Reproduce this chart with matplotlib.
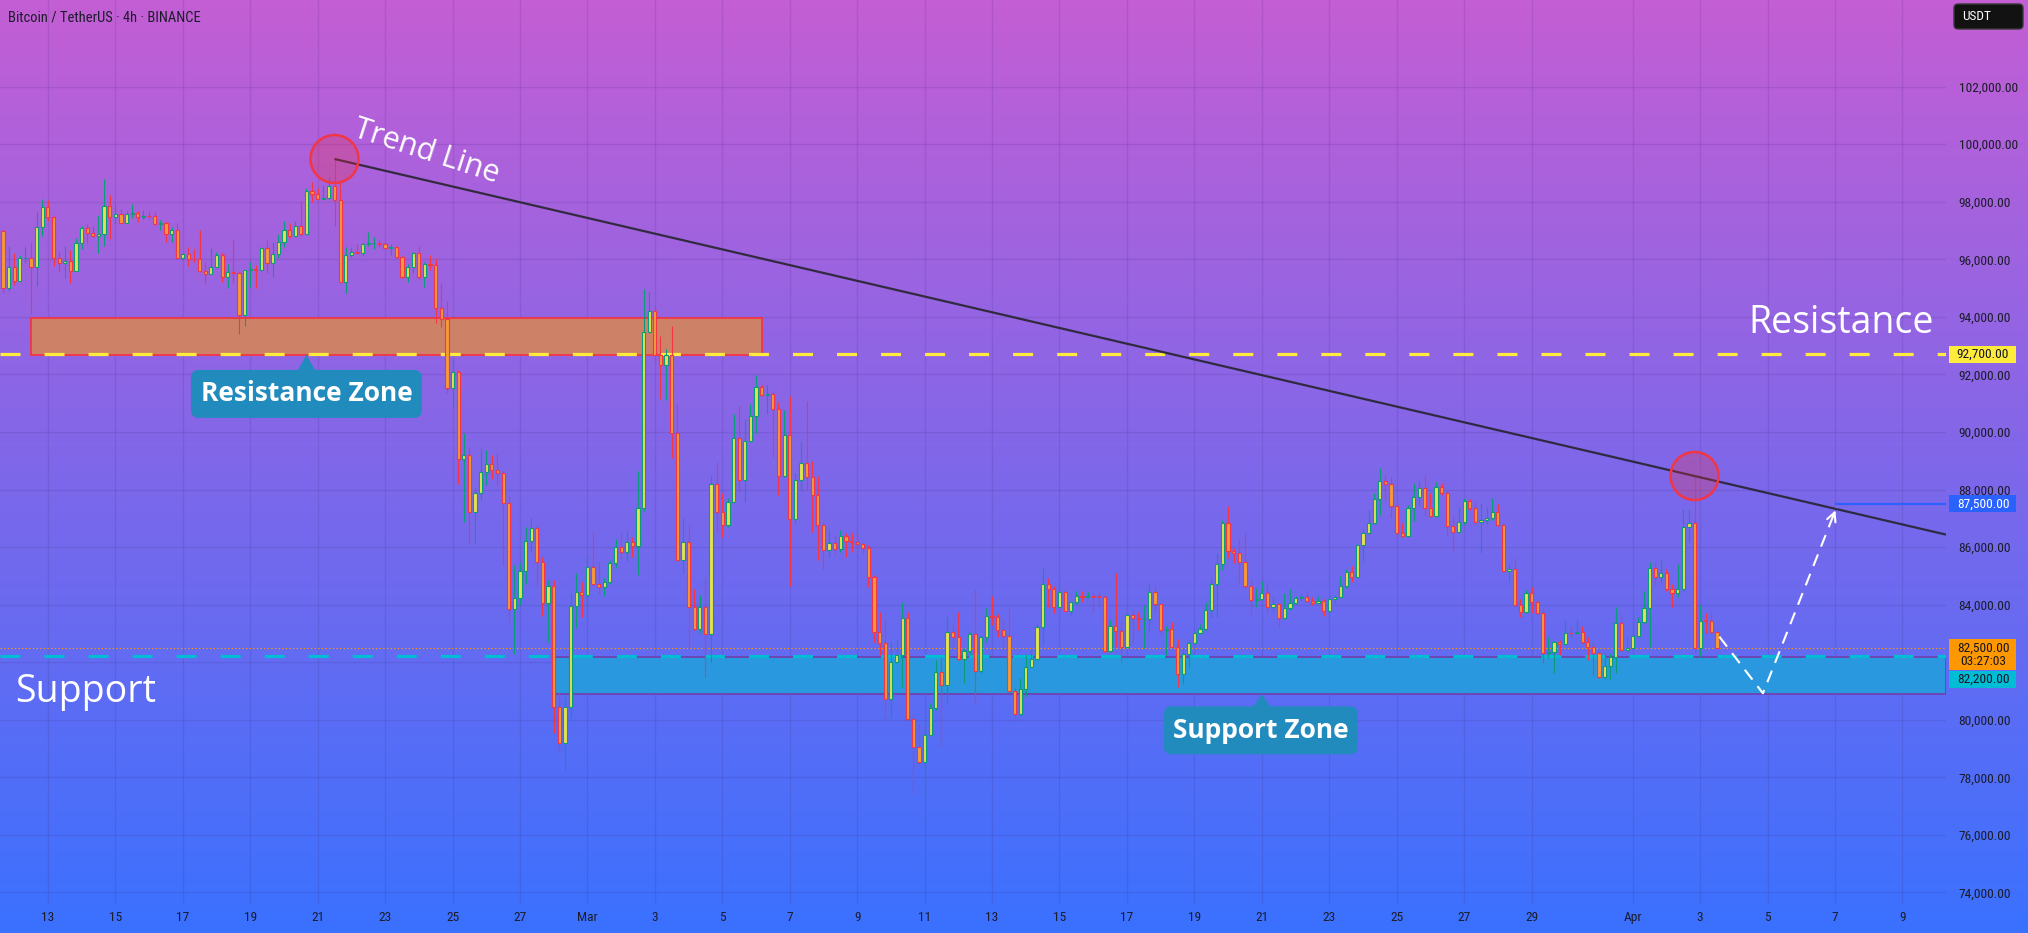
import os
import numpy as np
import pandas as pd
import matplotlib
matplotlib.use("Agg")
import matplotlib.pyplot as plt
from matplotlib.patches import Rectangle, FancyBboxPatch, Circle, Polygon
from matplotlib import font_manager
from matplotlib.textpath import TextToPath

plt.rcParams["lines.scale_dashes"] = False

# ---------------- data (BTC/USDT, 4h candles) ----------------
start_time = "2025-02-11 16:00"
first_open = 96986
closes = [94994, 95723, 95260, 96036, 96060, 95746, 97136, 97808, 97461, 96036,
          95886, 95955, 95584, 96557, 97078, 96905, 96824, 96870, 97855, 97461,
          97588, 97275, 97565, 97600, 97484, 97519, 97496, 97218, 97275, 96870,
          97021, 96059, 96175, 96025, 96001, 95608, 95480, 95723, 96152, 95399,
          95573, 95515, 94067, 95631, 95654, 95631, 96384, 95886, 96175, 96592,
          97021, 96824, 97160, 96870, 98376, 98260, 98086, 98121, 98561, 98063,
          95225, 96152, 96245, 96233, 96523, 96557, 96580, 96523, 96384, 96442,
          96071, 95376, 95723, 96210, 95376, 95828, 95804, 94298, 93916, 91519,
          92096, 89052, 89201, 87209, 87892, 88622, 88877, 88680, 88564, 87522,
          83838, 84221, 85182, 86225, 86653, 85472, 84070, 84661, 80456, 79182,
          80456, 83966, 84429, 84337, 85298, 84707, 84603, 84777, 85437, 86016,
          85843, 86190, 86051, 87371, 93464, 94217, 92676, 92329, 92676, 89978,
          85553, 86190, 83931, 83144, 83908, 82970, 88182, 87232, 86769, 87580,
          89781, 88333, 89700, 90568, 91553, 91286, 91321, 90788, 88483, 89897,
          86966, 88333, 88912, 88425, 87812, 86769, 85901, 86155, 85935, 86387,
          86213, 86178, 86097, 85958, 84974, 83040, 82657, 80723, 82020, 82252,
          83549, 80028, 79043, 78546, 79472, 80398, 81673, 81210, 83063, 82889,
          82101, 82403, 82982, 81708, 82889, 83619, 83561, 83121, 82924, 81013,
          80190, 81071, 81847, 82113, 83213, 84708, 84534, 83932, 84453, 83793,
          84082, 84314, 84256, 84302, 84279, 84267, 82391, 83271, 83086, 82541,
          83642, 83526, 83491, 83503, 84453, 84012, 83121, 83144, 82541, 81592,
          82275, 82681, 83005, 83144, 83816, 84708, 85403, 86827, 85866, 85785,
          85472, 84661, 84163, 84186, 84418, 83932, 84012, 83526, 83897, 84047,
          84244, 84279, 84140, 84070, 84140, 83793, 84186, 84279, 84650, 85148,
          84974, 86074, 86480, 86827, 87661, 88310, 88183, 87441, 86480, 86399,
          87349, 87731, 88067, 87349, 87094, 88101, 87893, 86735, 86515, 86862,
          87615, 87349, 86885, 86943, 87024, 87210, 86770, 85171, 85229, 83989,
          83758, 84395, 84105, 83700, 82310, 82368, 82715, 82634, 83028, 83005,
          83063, 82692, 82518, 82333, 81499, 81881, 82171, 83376, 82426, 82484,
          82912, 83410, 83897, 85264, 84974, 85113, 84534, 84395, 84534, 86711,
          86850, 82484, 83445, 83433, 83063, 82500]
highs = [97021, 96465, 96210, 96152, 96418, 96592, 97658, 98086, 98063, 97507,
         96268, 96465, 96326, 96731, 97160, 97218, 97160, 97542, 98793, 98237,
         97913, 97739, 97681, 97913, 97681, 97716, 97681, 97635, 97368, 97299,
         97113, 97252, 96233, 96418, 96360, 97021, 95897, 96384, 96268, 96210,
         95839, 96708, 95550, 95631, 95920, 95804, 96442, 96673, 96615, 96870,
         97333, 97275, 97333, 98028, 98492, 98700, 98469, 98584, 98851, 99488,
         98723, 96442, 96442, 96534, 96557, 96940, 96789, 96673, 96557, 96523,
         96476, 96117, 95839, 96268, 96476, 95897, 96152, 96036, 95191, 94553,
         92503, 92150, 89954, 89491, 88066, 89433, 89375, 89202, 89259, 88646,
         87777, 85379, 85437, 86688, 87059, 86769, 85669, 84858, 84858, 80978,
         80804, 84395, 85089, 84800, 85646, 86537, 85495, 84916, 85553, 86271,
         86479, 86561, 86364, 88646, 94970, 94877, 94379, 93337, 92885, 93684,
         90974, 87001, 86769, 84533, 84337, 84950, 88472, 88970, 87869, 87696,
         90626, 90904, 90452, 90974, 91981, 91634, 91634, 91425, 91032, 90765,
         91263, 88564, 89688, 91078, 88993, 88472, 86885, 86618, 86422, 86595,
         86479, 86479, 86479, 86132, 86074, 85032, 83735, 83491, 82715, 82773,
         84082, 83735, 80225, 79854, 79935, 80572, 82078, 82194, 83607, 83294,
         83735, 82484, 83040, 84511, 82924, 83874, 84302, 83677, 83491, 83874,
         81152, 81441, 82252, 82426, 83329, 85287, 84939, 84661, 84650, 84545,
         84105, 84476, 84476, 84453, 84395, 84430, 84302, 83468, 85090, 83434,
         83700, 83839, 83735, 83989, 84708, 84661, 83989, 83271, 83410, 82796,
         82484, 82773, 83028, 83318, 84105, 84881, 85785, 86943, 87430, 85982,
         86283, 86480, 84893, 84569, 84823, 84777, 84302, 84047, 84395, 84534,
         84302, 84395, 84487, 84279, 84302, 84186, 84244, 84337, 84997, 85229,
         85345, 86098, 86619, 87291, 87870, 88738, 88507, 88449, 87638, 86827,
         87464, 88240, 88298, 88507, 87870, 88252, 88217, 87986, 87036, 87406,
         87696, 87661, 87580, 87522, 87406, 87696, 87499, 86827, 85403, 85588,
         84186, 84510, 84603, 84221, 83897, 82866, 82750, 82773, 83468, 83271,
         83491, 83260, 82866, 82715, 82426, 82310, 82310, 83932, 83677, 82866,
         83237, 83584, 84487, 85495, 85460, 85553, 85240, 84719, 85414, 87314,
         87314, 88472, 83990, 83700, 83758, 83121]
lows = [94843, 94913, 95110, 95272, 95886, 94090, 95086, 96824, 97345, 95781,
        95573, 95341, 95191, 95584, 96349, 96557, 96789, 96233, 96476, 96696,
        97218, 97275, 97275, 97449, 97287, 97391, 97391, 97195, 97021, 96615,
        96592, 96036, 95978, 95781, 95920, 95550, 95191, 95480, 95723, 95225,
        95017, 95191, 93395, 93696, 95052, 95017, 95608, 95515, 95399, 96036,
        96418, 96754, 96789, 96824, 96870, 97982, 98086, 98086, 98086, 97171,
        95225, 94843, 96094, 96233, 96129, 96476, 96349, 96442, 96349, 96152,
        96059, 95364, 95225, 95515, 95283, 95052, 95631, 93800, 93661, 91346,
        90880, 88184, 86885, 86074, 86155, 87638, 88159, 88367, 88159, 85379,
        83410, 82275, 83989, 84707, 85843, 84626, 83607, 82715, 79530, 78835,
        78256, 80074, 83201, 83584, 83838, 84684, 84395, 84313, 84719, 85263,
        85576, 85530, 85646, 85032, 87267, 93429, 92410, 91147, 91113, 89109,
        85530, 85113, 82484, 83120, 83028, 81499, 82020, 86561, 86341, 86711,
        87580, 87927, 87580, 89665, 89954, 91263, 90615, 89120, 87812, 88449,
        84649, 86850, 87962, 87985, 86537, 85553, 85228, 85646, 85727, 85843,
        85669, 85843, 85901, 85808, 84626, 82715, 82252, 80016, 80051, 81962,
        81152, 79993, 77468, 78430, 77213, 79437, 80341, 79067, 80596, 82541,
        82078, 81291, 82252, 80596, 81615, 82715, 83294, 82889, 82426, 80978,
        79935, 80167, 80805, 81823, 82113, 82634, 83932, 83723, 83932, 83793,
        83642, 84024, 84105, 84244, 83735, 83967, 82368, 82368, 82541, 81997,
        82518, 82681, 83121, 82484, 83098, 83700, 82947, 82252, 82518, 81129,
        81233, 81847, 82657, 82982, 83121, 83526, 83584, 85206, 85611, 85437,
        84742, 84569, 83665, 83932, 84163, 83700, 83758, 83179, 83491, 83816,
        84012, 84129, 84082, 83989, 84047, 83619, 83758, 84047, 84221, 84568,
        84800, 84916, 85495, 86457, 86804, 87117, 87638, 87024, 86329, 86341,
        86387, 86920, 87430, 87117, 87036, 87059, 87812, 86422, 85843, 86480,
        86770, 87291, 86770, 85785, 86793, 86943, 86735, 85148, 84800, 83932,
        83584, 83700, 83700, 83642, 81985, 82136, 81638, 82252, 82600, 82866,
        82970, 82657, 82078, 81557, 81441, 81407, 81383, 81638, 82391, 82310,
        82449, 82889, 83376, 82542, 84684, 84765, 84487, 83932, 84279, 84453,
        86190, 82310, 82194, 83005, 83028, 82484]

tick_dates = ["2025-02-13", "2025-02-15", "2025-02-17", "2025-02-19", "2025-02-21",
              "2025-02-23", "2025-02-25", "2025-02-27", "2025-03-01", "2025-03-03",
              "2025-03-05", "2025-03-07", "2025-03-09", "2025-03-11", "2025-03-13",
              "2025-03-15", "2025-03-17", "2025-03-19", "2025-03-21", "2025-03-23",
              "2025-03-25", "2025-03-27", "2025-03-29", "2025-04-01", "2025-04-03",
              "2025-04-05", "2025-04-07", "2025-04-09"]
tick_labels = ["13", "15", "17", "19", "21", "23", "25", "27", "Mar", "3", "5", "7",
               "9", "11", "13", "15", "17", "19", "21", "23", "25", "27", "29", "Apr",
               "3", "5", "7", "9"]
price_ticks = list(range(74000, 104000, 2000))
hidden_price_labels = [82000]   # covered by the live-price labels in the original

resistance_zone = [92680, 93950]
resistance_zone_times = ["2025-02-12 12:00", "2025-03-06 04:00"]
support_zone = [80885, 82171]
support_zone_start = "2025-02-28 00:00"
resistance_level = 92700
support_level = 82200
last_price = 82500
target_price = 87500
path_times = ["2025-04-03 13:40", "2025-04-04 20:40", "2025-04-07 01:00"]
path_prices = [82888, 80921, 87370]
trend_idx = [59, 301]          # candles whose highs define the trend line
resist_callout_time = "2025-02-20 16:00"
support_callout_time = "2025-03-21 00:00"

# ---------------- fonts ----------------
W, H = 2028, 933
def find_font(patterns):
    for pat in patterns:
        for f in font_manager.fontManager.ttflist:
            if os.path.basename(f.fname).lower() == pat.lower():
                return f.fname
    return None

nf = find_font(["LiberationSansNarrow-Regular.ttf", "RobotoCondensed-Regular.ttf",
                "NotoSans-Condensed.ttf", "DejaVuSansCondensed.ttf",
                "LiberationSans-Regular.ttf", "DejaVuSans.ttf"])
NARROW = font_manager.FontProperties(fname=nf) if nf else font_manager.FontProperties(family="DejaVu Sans")
ttp = TextToPath()
def size_for(text, width_px):
    p = NARROW.copy(); p.set_size(10)
    w, _, _ = ttp.get_text_width_height_descent(text, p, ismath=False)
    return 10 * (width_px / 1.3889) / w

nsz = size_for("102,000.00", 59)
tsz = size_for("Bitcoin / TetherUS · 4h · BINANCE", 192)

names = {f.name for f in font_manager.fontManager.ttflist}
BIG = "Open Sans" if "Open Sans" in names else "DejaVu Sans"
TXT = "#1b1c2a"

def nprop(size):
    p = NARROW.copy(); p.set_size(size); return p

fig = plt.figure(figsize=(W / 100, H / 100), dpi=100)

# gradient background
bg = fig.add_axes([0, 0, 1, 1], zorder=0)
bg.set_axis_off()
top_c = np.array([196, 94, 212]) / 255
bot_c = np.array([58, 113, 255]) / 255
t = np.linspace(0, 1, H)[:, None, None]
grad = top_c[None, None, :] * (1 - t) + bot_c[None, None, :] * t
bg.imshow(grad, aspect="auto", extent=[0, 1, 0, 1], origin="upper")
bg.set_xlim(0, 1); bg.set_ylim(0, 1)

PLOT_R, PLOT_B = 1946, 905
base = pd.Timestamp("2025-02-13")
def days(t):
    return (pd.Timestamp(t) - base) / pd.Timedelta("1D")

ax = fig.add_axes([0, (H - PLOT_B) / H, PLOT_R / W, PLOT_B / H], zorder=1)
ax.patch.set_alpha(0)
for s in ax.spines.values():
    s.set_visible(False)

xl = (days("2025-02-11 13:55"), days("2025-04-10 06:58"))
ax.set_xlim(*xl)
ax.set_ylim(73564, 105013)

# ticks / grid
ax.set_xticks([days(d) for d in tick_dates])
ax.set_xticklabels(tick_labels)
ax.yaxis.tick_right()
ax.set_yticks(price_ticks)
ax.set_yticklabels(["" if p in hidden_price_labels else f"{p:,.2f}" for p in price_ticks])
ax.tick_params(axis="x", length=0, pad=4.0, labelcolor=TXT)
ax.tick_params(axis="y", length=0, pad=9, labelcolor=TXT)
for lab in ax.get_xticklabels() + ax.get_yticklabels():
    lab.set_fontproperties(nprop(nsz))
ax.grid(True, color=(0.22, 0.12, 0.42), alpha=0.13, linewidth=1)
ax.set_axisbelow(True)

# ---------------- candles ----------------
c = np.array(closes, dtype=float)
h = np.array(highs, dtype=float)
l = np.array(lows, dtype=float)
o = np.concatenate([[first_open], c[:-1]])
times = pd.date_range(start_time, periods=len(c), freq="4h")
x = ((times - base) / pd.Timedelta("1D")).values.astype(float)
up = c >= o
hi = np.maximum(h, np.maximum(o, c))
lo = np.minimum(l, np.minimum(o, c))
G_EDGE, G_FILL = "#0a9c78", "#e4e24e"
R_EDGE, R_FILL = "#f23645", "#f49a3a"
ax.vlines(x, lo, hi, colors=np.where(up, G_EDGE, R_EDGE), linewidth=0.8, zorder=4)
body_h = np.maximum(np.abs(c - o), 25)
ax.bar(x, body_h, bottom=np.minimum(o, c), width=0.095,
       color=np.where(up, G_FILL, R_FILL), edgecolor=np.where(up, G_EDGE, R_EDGE),
       linewidth=0.8, zorder=5)

# ---------------- zones & levels ----------------
rz0, rz1 = days(resistance_zone_times[0]), days(resistance_zone_times[1])
ax.add_patch(Rectangle((rz0, resistance_zone[0]), rz1 - rz0,
                       resistance_zone[1] - resistance_zone[0],
                       facecolor="#cd8268", edgecolor="#f23645", linewidth=1.3, zorder=2))
sz0 = days(support_zone_start)
ax.add_patch(Rectangle((sz0, support_zone[0]), xl[1] - sz0,
                       support_zone[1] - support_zone[0],
                       facecolor="#2a98de", edgecolor="#7040b0", linewidth=1.3, zorder=2))

ax.plot(xl, [resistance_level] * 2, color="#ffeb3b", linewidth=2.3,
        linestyle=(0, (14.4, 17.3)), dash_capstyle="butt", zorder=3)
ax.plot(xl, [support_level] * 2, color="#00bcd4", linewidth=2.3,
        linestyle=(0, (14.4, 17.3)), dash_capstyle="butt", zorder=3)
ax.plot(xl, [last_price] * 2, color="#ff9800", linewidth=0.8,
        linestyle=(0, (1.0, 1.6)), zorder=3)
ax.plot([days(path_times[-1]), xl[1]], [target_price] * 2, color="#2962ff",
        linewidth=1.5, zorder=3)

# trend line through the two highs
i0, i1 = trend_idx
slope = (hi[i1] - hi[i0]) / (x[i1] - x[i0])
ax.plot([x[i0], xl[1]], [hi[i0], hi[i0] + slope * (xl[1] - x[i0])],
        color="#26242f", linewidth=1.6, alpha=0.9, zorder=6, solid_capstyle="butt")

# projected path
px_ = [days(tt) for tt in path_times]
ax.plot(px_, path_prices, color="white", linewidth=1.5, linestyle=(0, (9, 6)), zorder=7)
ax.annotate("", xy=(px_[-1], path_prices[-1]),
            xytext=(px_[-1] - 0.06 * (px_[-1] - px_[-2]),
                    path_prices[-1] - 0.06 * (path_prices[-1] - path_prices[-2])),
            arrowprops=dict(arrowstyle="->", color="white", lw=1.5, mutation_scale=16),
            zorder=7)

# ---------------- overlay in pixel space ----------------
ov = fig.add_axes([0, 0, 1, 1], zorder=5)
ov.set_xlim(0, W); ov.set_ylim(H, 0)
ov.set_axis_off(); ov.patch.set_alpha(0)

def to_px(xv, pv):
    d = ax.transData.transform((xv, pv))
    return d[0], H - d[1]

# circles at the two touches
for idx in trend_idx:
    cx, cy = to_px(x[idx], hi[idx])
    ov.add_patch(Circle((cx, cy), 24, facecolor=(0.95, 0.2, 0.27, 0.28),
                        edgecolor="#f23645", linewidth=1.8, zorder=8))

# big labels
ov.text(426, 152, "Trend Line", color="white", fontsize=22, family=BIG,
        rotation=-18, ha="center", va="center", rotation_mode="anchor", zorder=9)
ov.text(1748, 333, "Resistance", color="white", fontsize=27, family=BIG,
        ha="left", va="baseline", zorder=9)
ov.text(15, 702, "Support", color="white", fontsize=27, family=BIG,
        ha="left", va="baseline", zorder=9)

def callout(tip_x, tip_y, text, left, right, top_off, height):
    col = "#218bbd"
    y0 = tip_y + top_off
    ov.add_patch(FancyBboxPatch((tip_x - left, y0), left + right, height,
                                boxstyle="round,pad=0,rounding_size=8",
                                facecolor=col, edgecolor="none", zorder=9))
    ov.add_patch(Polygon([(tip_x - 9, y0 + 1), (tip_x, tip_y), (tip_x + 9, y0 + 1)],
                         closed=True, facecolor=col, edgecolor="none", zorder=9))
    ov.text(tip_x + (right - left) / 2, y0 + height / 2, text, color="white",
            fontsize=19, family=BIG, fontweight="bold", ha="center", va="center",
            zorder=10)

rx, ry = to_px(days(resist_callout_time), resistance_zone[0])
callout(rx, ry, "Resistance Zone", 115.5, 115.5, 15, 48)
sx, sy = to_px(days(support_callout_time), support_zone[0])
callout(sx, sy, "Support Zone", 98, 96, 12, 48)

# price-axis labels
def axis_box(price, text, fc, tc, dy=0, h_=17):
    _, py = to_px(xl[1], price)
    cy = py + dy
    ov.add_patch(Rectangle((1949, cy - 8.5), 67, h_, facecolor=fc, edgecolor="none",
                           zorder=9, clip_on=False))
    ov.text(1983, cy - 8.5 + h_ / 2, text, color=tc, fontproperties=nprop(nsz),
            ha="center", va="center", multialignment="center", linespacing=1.05,
            zorder=10)

axis_box(resistance_level, f"{resistance_level:,.2f}", "#ffeb3b", "#131722")
axis_box(target_price, f"{target_price:,.2f}", "#2962ff", "white")
axis_box(last_price, f"{last_price:,.2f}\n03:27:03", "#ff9800", "#131722", h_=31)
axis_box(support_level, f"{support_level:,.2f}", "#00bcd4", "#131722", dy=23)

# currency box
ov.add_patch(FancyBboxPatch((1954, 4), 69, 25, boxstyle="round,pad=0,rounding_size=4",
                            facecolor="#121212", edgecolor="#3a3a3a", linewidth=1, zorder=9))
ov.text(1962, 17, "USDT", color="white", fontproperties=nprop(nsz),
        ha="left", va="center", zorder=10)

# title
ov.text(8, 17, "Bitcoin / TetherUS · 4h · BINANCE", color=TXT, fontproperties=nprop(tsz),
        ha="left", va="center", zorder=10)

fig.savefig("out.png", dpi=100)
